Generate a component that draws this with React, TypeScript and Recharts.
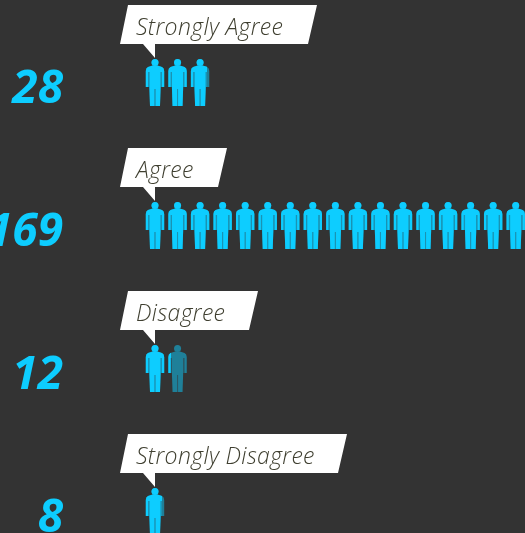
import { BarChart, Bar, XAxis, YAxis } from 'recharts';

const categories = ['Strongly Agree', 'Agree', 'Disagree', 'Strongly Disagree'];
const responses = [28, 169, 12, 8];
const RESPONSES_PER_ICON = 10;

const data = categories.map((category, i) => ({ category, responses: responses[i] }));

const BACKGROUND = '#333333';
const ICON_COLOR = '#0dcdff';
const CALLOUT_TEXT = '#3f3f30';
// right edge of each callout, they hug the label text
const calloutRight: Record<string, number> = {
  'Strongly Agree': 317,
  Agree: 227,
  Disagree: 258,
  'Strongly Disagree': 347,
};

const PERSON =
  'M7.6 6.6H12.4L17 7.9Q19.2 8.7 19.2 12V28H16.8V13H15.6V29L15 47H10.5V30H9.5V47H5L4.4 29V13H3.2V28H0.8V12Q0.8 8.7 3 7.9Z';
const PERSON_GAPS = 'M3.2 13H4.4V28H3.2ZM15.6 13H16.8V28H15.6ZM9.5 30H10.5V47H9.5Z';

function Person({ x, y }: { x: number; y: number }) {
  return (
    <g transform={`translate(${x},${y})`}>
      <circle cx={10} cy={3.6} r={3.5} />
      <path d={PERSON} />
      <path d={PERSON_GAPS} opacity={0.5} />
    </g>
  );
}

// ─── One survey row: icons, big number, callout ───────────────────────────────
function RowShape(props: any) {
  const { x, y, width, height, payload, index } = props;
  const value = payload.responses;
  const step = (width / value) * RESPONSES_PER_ICON;
  const count = Math.ceil(value / RESPONSES_PER_ICON);
  const icons = Array.from({ length: count }, (_, i) => x + 1 + i * step);
  const clipId = `row-clip-${index}`;
  const right = calloutRight[payload.category];
  const top = y - 54;
  const bottom = y - 15;

  return (
    <g>
      <clipPath id={clipId}>
        <rect x={x} y={y - 2} width={width} height={height + 4} />
      </clipPath>
      <g fill={ICON_COLOR} opacity={0.5}>
        {icons.map((ix, i) => (
          <Person key={i} x={ix} y={y} />
        ))}
      </g>
      <g fill={ICON_COLOR} clipPath={`url(#${clipId})`}>
        {icons.map((ix, i) => (
          <Person key={i} x={ix} y={y} />
        ))}
      </g>
      <text
        x={63}
        y={y + 44}
        textAnchor="end"
        fontFamily="'Open Sans', sans-serif"
        fontStyle="italic"
        fontWeight={700}
        fontSize={46}
        fill={ICON_COLOR}
      >
        {value}
      </text>
      <path
        d={`M${x - 16} ${top}H${right}L${right - 9} ${bottom}H${x + 11}V${bottom + 14}L${x - 1} ${bottom}H${x - 24}Z`}
        fill="#ffffff"
      />
      <text
        x={x - 8}
        y={y - 24.5}
        fontFamily="'Open Sans', sans-serif"
        fontStyle="italic"
        fontWeight={300}
        fontSize={23}
        letterSpacing={0.35}
        fill={CALLOUT_TEXT}
      >
        {payload.category}
      </text>
    </g>
  );
}

export default function App() {
  return (
    <div
      style={{
        position: 'absolute',
        left: 0,
        top: 0,
        width: 525,
        height: 533,
        overflow: 'hidden',
        background: BACKGROUND,
      }}
    >
      <BarChart
        width={525}
        height={583}
        data={data}
        layout="vertical"
        margin={{ top: 11, right: 0, bottom: 0, left: 144 }}
        barCategoryGap={0}
        style={{ filter: 'blur(0.4px)' }}
      >
        <XAxis type="number" domain={[0, 169]} hide />
        <YAxis type="category" dataKey="category" hide />
        <Bar dataKey="responses" barSize={47} shape={RowShape} isAnimationActive={false} />
      </BarChart>
    </div>
  );
}
